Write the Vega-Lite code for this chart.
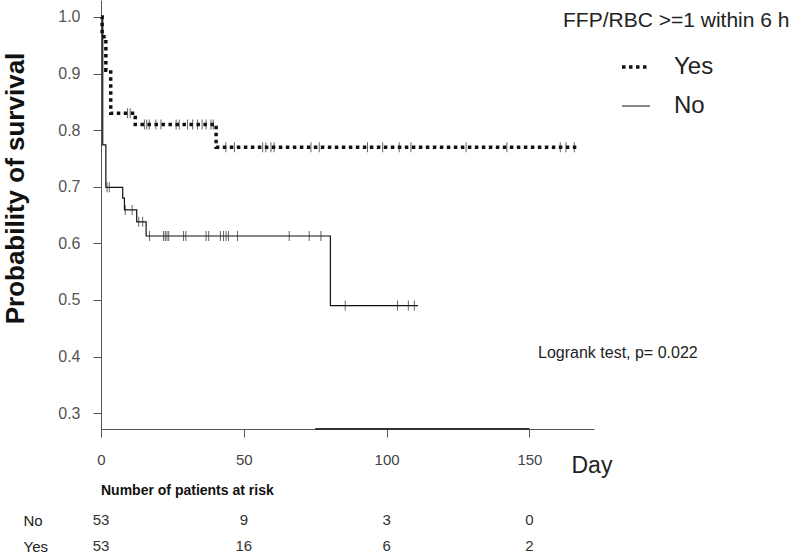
{
  "$schema": "https://vega.github.io/schema/vega-lite/v6.json",
  "padding": {"left": 2, "top": 0, "right": 0, "bottom": 0},
  "background": "white",
  "spacing": 7,
  "config": {"view": {"stroke": null}, "font": "Liberation Sans", "axis": {"grid": false}},
  "datasets": {
    "curves": [
      {"group": "Yes", "day": 0, "surv": 1.0},
      {"group": "Yes", "day": 0.4, "surv": 0.965},
      {"group": "Yes", "day": 1.7, "surv": 0.906},
      {"group": "Yes", "day": 3.4, "surv": 0.83},
      {"group": "Yes", "day": 12, "surv": 0.81},
      {"group": "Yes", "day": 40.3, "surv": 0.77},
      {"group": "Yes", "day": 167.3, "surv": 0.77},
      {"group": "No", "day": 0, "surv": 1.0},
      {"group": "No", "day": 0.6, "surv": 0.774},
      {"group": "No", "day": 1.7, "surv": 0.699},
      {"group": "No", "day": 7.6, "surv": 0.68},
      {"group": "No", "day": 8.2, "surv": 0.659},
      {"group": "No", "day": 12.5, "surv": 0.638},
      {"group": "No", "day": 15.8, "surv": 0.613},
      {"group": "No", "day": 80.3, "surv": 0.49},
      {"group": "No", "day": 111, "surv": 0.49}
    ],
    "censor": [
      {"group": "Yes", "day": 9.3, "surv": 0.83},
      {"group": "Yes", "day": 10.2, "surv": 0.83},
      {"group": "Yes", "day": 15.2, "surv": 0.81},
      {"group": "Yes", "day": 16.0, "surv": 0.81},
      {"group": "Yes", "day": 16.9, "surv": 0.81},
      {"group": "Yes", "day": 19.2, "surv": 0.81},
      {"group": "Yes", "day": 21.0, "surv": 0.81},
      {"group": "Yes", "day": 26.3, "surv": 0.81},
      {"group": "Yes", "day": 27.4, "surv": 0.81},
      {"group": "Yes", "day": 30.3, "surv": 0.81},
      {"group": "Yes", "day": 32.1, "surv": 0.81},
      {"group": "Yes", "day": 33.8, "surv": 0.81},
      {"group": "Yes", "day": 35.4, "surv": 0.81},
      {"group": "Yes", "day": 36.8, "surv": 0.81},
      {"group": "Yes", "day": 38.5, "surv": 0.81},
      {"group": "Yes", "day": 39.3, "surv": 0.81},
      {"group": "Yes", "day": 43.7, "surv": 0.77},
      {"group": "Yes", "day": 46.7, "surv": 0.77},
      {"group": "Yes", "day": 56.6, "surv": 0.77},
      {"group": "Yes", "day": 57.7, "surv": 0.77},
      {"group": "Yes", "day": 59.5, "surv": 0.77},
      {"group": "Yes", "day": 60.6, "surv": 0.77},
      {"group": "Yes", "day": 73.5, "surv": 0.77},
      {"group": "Yes", "day": 76.4, "surv": 0.77},
      {"group": "Yes", "day": 93.3, "surv": 0.77},
      {"group": "Yes", "day": 98.6, "surv": 0.77},
      {"group": "Yes", "day": 104.4, "surv": 0.77},
      {"group": "Yes", "day": 108.5, "surv": 0.77},
      {"group": "Yes", "day": 127.8, "surv": 0.77},
      {"group": "Yes", "day": 142.1, "surv": 0.77},
      {"group": "Yes", "day": 160.8, "surv": 0.77},
      {"group": "Yes", "day": 162.8, "surv": 0.77},
      {"group": "Yes", "day": 165.7, "surv": 0.77},
      {"group": "No", "day": 2.1, "surv": 0.699},
      {"group": "No", "day": 2.9, "surv": 0.699},
      {"group": "No", "day": 8.5, "surv": 0.659},
      {"group": "No", "day": 10.9, "surv": 0.659},
      {"group": "No", "day": 13.2, "surv": 0.638},
      {"group": "No", "day": 14.6, "surv": 0.638},
      {"group": "No", "day": 17.0, "surv": 0.613},
      {"group": "No", "day": 21.9, "surv": 0.613},
      {"group": "No", "day": 22.5, "surv": 0.613},
      {"group": "No", "day": 23.1, "surv": 0.613},
      {"group": "No", "day": 23.7, "surv": 0.613},
      {"group": "No", "day": 28.9, "surv": 0.613},
      {"group": "No", "day": 29.7, "surv": 0.613},
      {"group": "No", "day": 36.8, "surv": 0.613},
      {"group": "No", "day": 37.7, "surv": 0.613},
      {"group": "No", "day": 41.8, "surv": 0.613},
      {"group": "No", "day": 42.9, "surv": 0.613},
      {"group": "No", "day": 43.8, "surv": 0.613},
      {"group": "No", "day": 44.6, "surv": 0.613},
      {"group": "No", "day": 47.8, "surv": 0.613},
      {"group": "No", "day": 65.9, "surv": 0.613},
      {"group": "No", "day": 72.9, "surv": 0.613},
      {"group": "No", "day": 77.0, "surv": 0.613},
      {"group": "No", "day": 85.5, "surv": 0.49},
      {"group": "No", "day": 103.8, "surv": 0.49},
      {"group": "No", "day": 107.6, "surv": 0.49},
      {"group": "No", "day": 109.7, "surv": 0.49}
    ],
    "risk": [
      {"group": "No", "day": 0, "n": 53},
      {"group": "No", "day": 50, "n": 9},
      {"group": "No", "day": 100, "n": 3},
      {"group": "No", "day": 150, "n": 0},
      {"group": "Yes", "day": 0, "n": 53},
      {"group": "Yes", "day": 50, "n": 16},
      {"group": "Yes", "day": 100, "n": 6},
      {"group": "Yes", "day": 150, "n": 2}
    ],
    "axisbar": [{"d1": 75, "d2": 150, "s": 0.272}],
    "note": [{"day": 153, "surv": 0.406, "label": "Logrank test, p= 0.022"}]
  },
  "vconcat": [
    {
      "width": 493,
      "height": 429,
      "layer": [
        {
          "data": {"name": "curves"},
          "mark": {"type": "line", "interpolate": "step-after", "color": "#111"},
          "encoding": {
            "x": {
              "field": "day", "type": "quantitative",
              "scale": {"domain": [0, 172.6], "nice": false, "zero": false},
              "axis": {
                "values": [0, 50, 100, 150],
                "title": "Day",
                "titleFontSize": 23,
                "titleFontWeight": "normal",
                "titleColor": "#222",
                "titleAlign": "left",
                "titleX": 470,
                "titleY": 36,
                "titleBaseline": "middle",
                "labelFontSize": 15,
                "labelColor": "#444",
                "labelFlush": false,
                "tickSize": 8,
                "labelPadding": 15,
                "domainColor": "#555",
                "tickColor": "#555"
              }
            },
            "y": {
              "field": "surv", "type": "quantitative",
              "scale": {"domain": [0.272, 1.03], "nice": false, "zero": false},
              "axis": {
                "values": [0.3, 0.4, 0.5, 0.6, 0.7, 0.8, 0.9, 1.0],
                "format": ".1f",
                "title": "Probability of survival",
                "titleFontSize": 26,
                "titleFontWeight": "bold",
                "titleColor": "#111",
                "titleAngle": 270,
                "titleX": -86,
                "titleY": 188,
                "titleAlign": "center",
                "titleBaseline": "middle",
                "labelFontSize": 16,
                "labelColor": "#555",
                "tickSize": 8,
                "labelPadding": 13,
                "domainColor": "#555",
                "tickColor": "#555"
              }
            },
            "strokeDash": {
              "field": "group", "type": "nominal",
              "scale": {"domain": ["Yes", "No"], "range": [[3.5, 3.5], [1, 0]]},
              "legend": {
                "orient": "none",
                "legendX": 462,
                "legendY": 10,
                "title": "FFP/RBC >=1 within 6 h",
                "titleFontSize": 21,
                "titleFontWeight": "normal",
                "titleColor": "#222",
                "titleLimit": 600,
                "titlePadding": 20,
                "labelFontSize": 24,
                "labelColor": "#222",
                "labelOffset": 22,
                "symbolOffset": 57,
                "symbolType": "stroke",
                "symbolSize": 784,
                "symbolStrokeColor": "#111",
                "rowPadding": 12
              }
            },
            "strokeWidth": {
              "field": "group", "type": "nominal",
              "scale": {"domain": ["Yes", "No"], "range": [3.5, 1.2]},
              "legend": {
                "orient": "none",
                "legendX": 462,
                "legendY": 10,
                "title": "FFP/RBC >=1 within 6 h",
                "titleFontSize": 21,
                "titleFontWeight": "normal",
                "titleColor": "#222",
                "titleLimit": 600,
                "titlePadding": 20,
                "labelFontSize": 24,
                "labelColor": "#222",
                "labelOffset": 22,
                "symbolOffset": 57,
                "symbolType": "stroke",
                "symbolSize": 784,
                "symbolStrokeColor": "#111",
                "rowPadding": 12
              }
            }
          }
        },
        {
          "data": {"name": "censor"},
          "mark": {"type": "tick", "orient": "vertical", "size": 10, "thickness": 1, "color": "#222"},
          "encoding": {
            "x": {"field": "day", "type": "quantitative"},
            "y": {"field": "surv", "type": "quantitative"}
          }
        },
        {
          "data": {"name": "axisbar"},
          "mark": {"type": "rule", "strokeWidth": 2, "color": "#333"},
          "encoding": {
            "x": {"field": "d1", "type": "quantitative"},
            "x2": {"field": "d2"},
            "y": {"field": "s", "type": "quantitative"}
          }
        },
        {
          "data": {"name": "note"},
          "mark": {"type": "text", "align": "left", "baseline": "middle", "fontSize": 16, "color": "#222"},
          "encoding": {
            "x": {"field": "day", "type": "quantitative"},
            "y": {"field": "surv", "type": "quantitative"},
            "text": {"field": "label", "type": "nominal"}
          }
        }
      ]
    },
    {
      "width": 493,
      "height": 52,
      "title": {
        "text": "Number of patients at risk",
        "anchor": "start",
        "frame": "group",
        "fontSize": 14,
        "fontWeight": "bold",
        "color": "#111",
        "offset": 9
      },
      "data": {"name": "risk"},
      "mark": {"type": "text", "fontSize": 15, "color": "#333"},
      "encoding": {
        "x": {"field": "day", "type": "quantitative", "scale": {"domain": [0, 172.6], "nice": false, "zero": false}, "axis": null},
        "y": {
          "field": "group", "type": "nominal",
          "scale": {"type": "point", "domain": ["No", "Yes"], "padding": 0.5},
          "axis": {
            "title": null,
            "domain": false,
            "ticks": false,
            "tickSize": 0,
            "labelAlign": "left",
            "labelPadding": 78,
            "labelFontSize": 15,
            "labelColor": "#222"
          }
        },
        "text": {"field": "n", "type": "quantitative"}
      }
    }
  ]
}
